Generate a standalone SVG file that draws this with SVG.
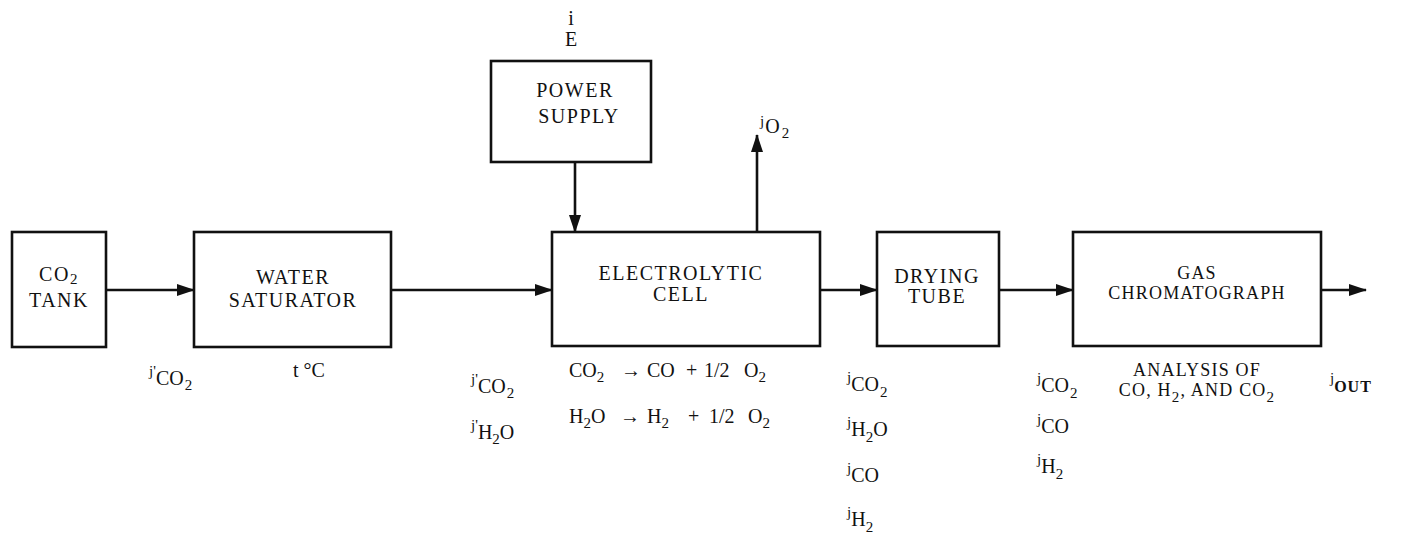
<svg xmlns="http://www.w3.org/2000/svg" width="1418" height="543" viewBox="0 0 1418 543">
<style>
.box{fill:none;stroke:#111;stroke-width:2.6}
.t{font-family:"Liberation Serif",serif;font-size:20px;fill:#111;letter-spacing:1.5px;text-anchor:middle}
.g{font-size:18px;letter-spacing:1.2px}
.l{font-family:"Liberation Serif",serif;font-size:20px;fill:#111}
.s{font-size:15px}
.line{stroke:#111;stroke-width:2.6;fill:none}
</style>
<defs>
<marker id="arr" markerUnits="userSpaceOnUse" markerWidth="18" markerHeight="12" refX="17" refY="6" orient="auto">
<path d="M0,0 L18,6 L0,12 z" fill="#111"/>
</marker>
</defs>
<rect width="1418" height="543" fill="#fff"/>

<g id="co2-tank">
<rect class="box" x="12" y="232" width="94" height="115"/>
<text class="t" x="59" y="281">CO<tspan class="s" dy="3">2</tspan></text>
<text class="t" x="59" y="307">TANK</text>
</g>

<g id="water-saturator">
<rect class="box" x="194" y="232" width="197" height="115"/>
<text class="t" x="293" y="284">WATER</text>
<text class="t" x="293" y="307">SATURATOR</text>
</g>

<g id="power-supply">
<rect class="box" x="491" y="61" width="160" height="101"/>
<text class="t" x="575" y="97">POWER</text>
<text class="t" x="579" y="123">SUPPLY</text>
</g>

<g id="electrolytic-cell">
<rect class="box" x="552" y="232" width="268" height="114"/>
<text class="t" x="681" y="280">ELECTROLYTIC</text>
<text class="t" x="681" y="301">CELL</text>
</g>

<g id="drying-tube">
<rect class="box" x="877" y="232" width="122" height="114"/>
<text class="t" x="937" y="283">DRYING</text>
<text class="t" x="937" y="303">TUBE</text>
</g>

<g id="gas-chromatograph">
<rect class="box" x="1073" y="232" width="248" height="114"/>
<text class="t g" x="1197" y="279">GAS</text>
<text class="t g" x="1197" y="299">CHROMATOGRAPH</text>
</g>

<g id="connectors">
<line class="line" x1="106" y1="290" x2="194" y2="290" marker-end="url(#arr)"/>
<line class="line" x1="391" y1="290" x2="552" y2="290" marker-end="url(#arr)"/>
<line class="line" x1="575" y1="162" x2="575" y2="232" marker-end="url(#arr)"/>
<line class="line" x1="757" y1="232" x2="757" y2="135" marker-end="url(#arr)"/>
<line class="line" x1="820" y1="290" x2="877" y2="290" marker-end="url(#arr)"/>
<line class="line" x1="999" y1="290" x2="1073" y2="290" marker-end="url(#arr)"/>
<line class="line" x1="1321" y1="290" x2="1366" y2="290" marker-end="url(#arr)"/>
</g>

<g id="labels">
<text class="l" x="571" y="25" text-anchor="middle" font-size="18">i</text>
<text class="l" x="571" y="46" text-anchor="middle">E</text>
<text class="l" x="760" y="133"><tspan class="s" dy="-7">j</tspan><tspan dy="7" dx="1">O</tspan><tspan class="s" dy="5" dx="2">2</tspan></text>

<text class="l" x="149" y="385"><tspan class="s" dy="-9">j'</tspan><tspan dy="9">CO</tspan><tspan class="s" dy="5" dx="1">2</tspan></text>
<text class="l" x="293" y="377">t °C</text>

<text class="l" x="471" y="393"><tspan class="s" dy="-9">j'</tspan><tspan dy="9">CO</tspan><tspan class="s" dy="5" dx="1">2</tspan></text>
<text class="l" x="471" y="439"><tspan class="s" dy="-9">j'</tspan><tspan dy="9">H</tspan><tspan class="s" dy="5">2</tspan><tspan dy="-5">O</tspan></text>

<text class="l" y="377"><tspan x="569">CO</tspan><tspan class="s" dy="5">2</tspan><tspan x="621" dy="-5">→</tspan><tspan x="647">CO</tspan><tspan x="686">+</tspan><tspan x="704">1/2</tspan><tspan x="744">O</tspan><tspan class="s" dy="5">2</tspan></text>
<text class="l" y="423"><tspan x="569">H</tspan><tspan class="s" dy="5">2</tspan><tspan dy="-5">O</tspan><tspan x="620">→</tspan><tspan x="647">H</tspan><tspan class="s" dy="5">2</tspan><tspan x="688" dy="-5">+</tspan><tspan x="709">1/2</tspan><tspan x="748">O</tspan><tspan class="s" dy="5">2</tspan></text>

<text class="l" x="847" y="391"><tspan class="s" dy="-9">j</tspan><tspan dy="9">CO</tspan><tspan class="s" dy="6" dx="1">2</tspan></text>
<text class="l" x="847" y="436"><tspan class="s" dy="-9">j</tspan><tspan dy="9">H</tspan><tspan class="s" dy="6">2</tspan><tspan dy="-6">O</tspan></text>
<text class="l" x="847" y="482"><tspan class="s" dy="-9">j</tspan><tspan dy="9">CO</tspan></text>
<text class="l" x="847" y="526"><tspan class="s" dy="-9">j</tspan><tspan dy="9">H</tspan><tspan class="s" dy="6">2</tspan></text>

<text class="l" x="1037" y="392"><tspan class="s" dy="-9">j</tspan><tspan dy="9">CO</tspan><tspan class="s" dy="6" dx="1">2</tspan></text>
<text class="l" x="1037" y="433"><tspan class="s" dy="-9">j</tspan><tspan dy="9">CO</tspan></text>
<text class="l" x="1037" y="473"><tspan class="s" dy="-9">j</tspan><tspan dy="9">H</tspan><tspan class="s" dy="6">2</tspan></text>

<text class="t g" x="1197" y="376">ANALYSIS OF</text>
<text class="t g" x="1197" y="396">CO,  H<tspan class="s" dy="6">2</tspan><tspan dy="-6">,  AND CO</tspan><tspan class="s" dy="6">2</tspan></text>

<text class="l" x="1330" y="392"><tspan class="s" dy="-9">j</tspan><tspan dy="9" font-size="16" font-weight="bold" letter-spacing="1">OUT</tspan></text>
</g>
</svg>
